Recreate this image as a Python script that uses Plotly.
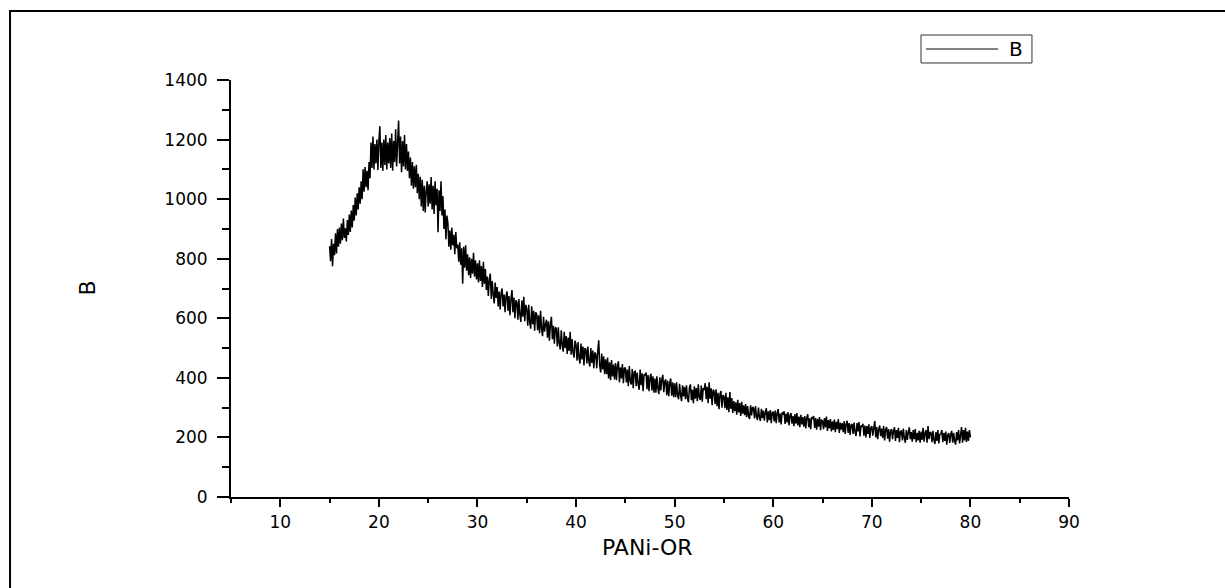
import numpy as np
import plotly.graph_objects as go

# Diffraction scan of PANi-OR: 2-theta from 15.0 to 80.0 in 0.1 degree steps
two_theta_start = 15.0
two_theta_step = 0.1

# Intensity readings, one row per degree of 2-theta
intensity = [
    842, 792, 866, 775, 850, 812, 885, 818, 900, 840,          # 15
    905, 850, 918, 862, 935, 870, 902, 858, 930, 880,          # 16
    948, 890, 962, 905, 980, 928, 1005, 945, 1020, 965,        # 17
    1040, 985, 1060, 1000, 1100, 1025, 1108, 1040, 1095, 1030, # 18
    1125, 1070, 1190, 1105, 1210, 1100, 1185, 1120, 1200, 1098,  # 19
    1195, 1245, 1105, 1190, 1095, 1200, 1115, 1215, 1100, 1190,  # 20
    1120, 1205, 1105, 1220, 1095, 1195, 1125, 1235, 1110, 1190,  # 21
    1264, 1120, 1210, 1090, 1195, 1110, 1215, 1100, 1185, 1095,  # 22
    1160, 1070, 1140, 1045, 1125, 1035, 1110, 1040, 1115, 1020,  # 23
    1085, 1000, 1075, 975, 1065, 960, 1045, 955, 1030, 1060,   # 24
    975, 1050, 985, 1074, 965, 1045, 950, 1060, 980, 1035,     # 25
    889, 1030, 960, 1060, 945, 1010, 900, 965, 865, 945,       # 26
    920, 840, 895, 830, 905, 845, 880, 815, 890, 835,          # 27
    848, 790, 855, 780, 835, 716, 840, 770, 845, 760,          # 28
    815, 745, 805, 735, 800, 750, 820, 740, 795, 730,          # 29
    785, 720, 795, 725, 775, 705, 790, 715, 765, 695,          # 30
    740, 675, 730, 750, 665, 725, 680, 650, 720, 668,          # 31
    705, 640, 690, 630, 685, 700, 640, 680, 620, 675,          # 32
    690, 625, 675, 610, 665, 695, 620, 670, 600, 660,          # 33
    655, 595, 665, 612, 588, 660, 605, 672, 590, 645,          # 34
    632, 575, 645, 585, 565, 640, 580, 625, 558, 620,          # 35
    615, 560, 610, 550, 625, 565, 540, 605, 555, 580,          # 36
    595, 535, 590, 525, 580, 605, 530, 575, 515, 570,          # 37
    565, 505, 570, 515, 495, 560, 510, 488, 555, 500,          # 38
    540, 480, 535, 490, 555, 478, 530, 485, 468, 525,          # 39
    512, 458, 520, 465, 448, 515, 462, 505, 442, 500,          # 40
    495, 448, 505, 455, 438, 500, 450, 492, 432, 485,          # 41
    480, 432, 488, 526, 440, 418, 482, 428, 472, 412,          # 42
    462, 412, 468, 398, 452, 392, 460, 405, 445, 395,          # 43
    450, 392, 442, 456, 385, 435, 398, 446, 382, 432,          # 44
    435, 385, 428, 372, 440, 388, 378, 430, 365, 420,          # 45
    422, 372, 418, 380, 360, 428, 375, 415, 355, 412,          # 46
    408, 418, 362, 410, 355, 400, 414, 358, 405, 350,          # 47
    398, 350, 405, 365, 345, 402, 358, 395, 410, 352,          # 48
    388, 395, 342, 390, 338, 382, 398, 340, 385, 335,          # 49
    382, 335, 385, 340, 328, 380, 342, 322, 375, 338,          # 50
    370, 328, 375, 332, 318, 368, 378, 325, 360, 315,          # 51
    372, 330, 366, 322, 378, 335, 326, 374, 320, 366,          # 52
    360, 382, 328, 370, 315, 385, 330, 365, 308, 360,          # 53
    355, 312, 362, 305, 350, 295, 345, 356, 300, 342,          # 54
    338, 298, 350, 292, 335, 285, 352, 296, 332, 282,          # 55
    322, 288, 318, 276, 326, 284, 315, 272, 320, 280,          # 56
    308, 275, 312, 268, 305, 272, 262, 308, 274, 302,          # 57
    298, 264, 305, 270, 258, 300, 268, 255, 296, 265,          # 58
    290, 256, 284, 298, 250, 288, 258, 292, 248, 284,          # 59
    285, 254, 290, 248, 282, 295, 250, 280, 244, 284,          # 60
    276, 288, 245, 280, 250, 285, 240, 274, 282, 246,          # 61
    272, 238, 278, 246, 282, 240, 270, 234, 276, 244,          # 62
    268, 236, 272, 230, 266, 278, 234, 264, 228, 268,          # 63
    262, 272, 232, 265, 226, 262, 236, 268, 224, 258,          # 64
    256, 228, 265, 234, 270, 222, 258, 230, 262, 220,          # 65
    254, 225, 260, 218, 252, 228, 262, 215, 250, 226,          # 66
    248, 218, 255, 212, 245, 256, 215, 248, 208, 242,          # 67
    245, 212, 250, 218, 205, 248, 220, 252, 203, 240,          # 68
    236, 246, 206, 240, 200, 238, 212, 244, 198, 232,          # 69
    238, 206, 232, 255, 200, 235, 194, 228, 240, 204,          # 70
    230, 198, 238, 190, 226, 235, 196, 228, 186, 222,          # 71
    228, 194, 222, 234, 188, 225, 198, 232, 184, 220,          # 72
    222, 190, 230, 198, 182, 225, 192, 218, 234, 194,          # 73
    218, 186, 225, 194, 228, 184, 215, 190, 222, 182,          # 74
    220, 192, 232, 186, 215, 225, 182, 238, 194, 218,          # 75
    215, 184, 222, 192, 178, 218, 188, 225, 180, 210,          # 76
    212, 225, 184, 215, 188, 220, 176, 208, 215, 182,          # 77
    210, 222, 182, 215, 188, 176, 218, 190, 225, 180,          # 78
    208, 235, 182, 225, 190, 232, 185, 220, 188, 225,          # 79
    200,                                                       # 80
]

two_theta = np.round(two_theta_start + two_theta_step * np.arange(len(intensity)), 1)

x_tick_values = [10, 20, 30, 40, 50, 60, 70, 80, 90]
y_tick_values = [0, 200, 400, 600, 800, 1000, 1200, 1400]

series_name = "B"
x_title = "PANi-OR"
y_title = "B"

TICK_FONT = dict(family="DejaVu Sans", size=17, color="black")
TITLE_FONT = dict(family="DejaVu Sans", size=22, color="black")

fig = go.Figure()
fig.add_trace(
    go.Scatter(
        x=two_theta,
        y=intensity,
        mode="lines",
        name=series_name,
        line=dict(color="black", width=1.5, simplify=False),
        showlegend=False,
        hoverinfo="x+y",
    )
)

fig.update_layout(
    width=1225,
    height=588,
    margin=dict(l=231, r=156, t=80, b=91),
    paper_bgcolor="white",
    plot_bgcolor="white",
    showlegend=False,
)

fig.update_xaxes(
    range=[5, 90],
    tickvals=x_tick_values,
    ticktext=[str(v) for v in x_tick_values],
    showline=True,
    linecolor="black",
    linewidth=2,
    ticks="outside",
    ticklen=8,
    tickwidth=2,
    tickcolor="black",
    ticklabelstandoff=1,
    tickfont=TICK_FONT,
    showgrid=False,
    zeroline=False,
    minor=dict(ticks="outside", ticklen=4, tickwidth=2, tickcolor="black",
               tick0=0, dtick=5, showgrid=False),
)

fig.update_yaxes(
    range=[0, 1400],
    tickvals=y_tick_values,
    ticktext=[str(v) for v in y_tick_values],
    showline=True,
    linecolor="black",
    linewidth=2,
    ticks="outside",
    ticklen=12,
    tickwidth=2,
    tickcolor="black",
    ticklabelstandoff=6,
    tickfont=TICK_FONT,
    showgrid=False,
    zeroline=False,
    minor=dict(ticks="outside", ticklen=7, tickwidth=2, tickcolor="black",
               tick0=0, dtick=100, showgrid=False),
)

# Axis titles
fig.add_annotation(text=x_title, xref="paper", yref="paper", x=0.4976, y=-0.1223,
                   showarrow=False, font=TITLE_FONT, xanchor="center", yanchor="middle")
fig.add_annotation(text=y_title, xref="paper", yref="paper", x=-0.1718, y=0.5,
                   showarrow=False, font=TITLE_FONT, textangle=-90,
                   xanchor="center", yanchor="middle")

# Legend box with line sample and series label
fig.add_shape(type="rect", xref="paper", yref="paper",
              x0=0.8234, x1=0.9558, y0=1.0408, y1=1.1079,
              line=dict(color="#333333", width=1), fillcolor="white")
fig.add_shape(type="line", xref="paper", yref="paper",
              x0=0.8294, x1=0.9153, y0=1.0743, y1=1.0743,
              line=dict(color="black", width=1))
fig.add_annotation(text=series_name, xref="paper", yref="paper", x=0.926, y=1.0743,
                   showarrow=False, font=dict(family="DejaVu Sans", size=20, color="black"),
                   xanchor="left", yanchor="middle")

# Frame around the figure (left and top edges fall inside the page)
fig.add_shape(type="rect", xref="paper", yref="paper",
              x0=-0.2637, x1=1.25, y0=-0.3, y1=1.1655,
              line=dict(color="black", width=2), fillcolor="rgba(0,0,0,0)", layer="below")

fig.write_html("out.html")
